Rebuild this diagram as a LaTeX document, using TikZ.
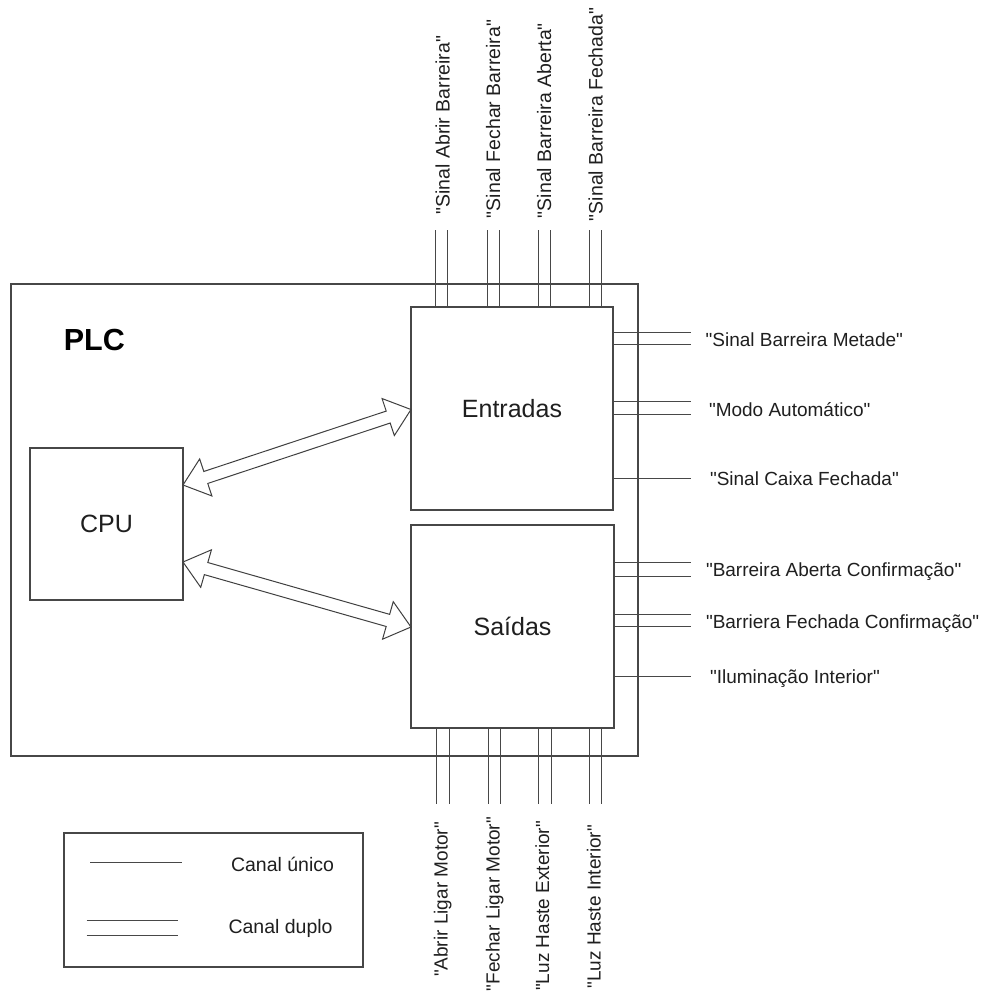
\documentclass[tikz,border=0pt]{standalone}
\usepackage{fontspec}
\setmainfont{Liberation Sans}[Ligatures=TeXOff]
\usetikzlibrary{calc}
\tikzset{
 box/.style={draw=black!72, line width=1.1pt, rectangle, inner sep=0pt, outer sep=0pt, fill=white},
 chan/.style={draw=black!72, line width=1pt},
 lbl/.style={inner sep=0pt, outer sep=0pt, text=black!88, font=\fontsize{19.5}{23}\selectfont},
 blbl/.style={inner sep=0pt, outer sep=0pt, text=black!88, font=\fontsize{19}{23}\selectfont},
 big/.style={text=black!88, font=\fontsize{25}{30}\selectfont, text height=17.9pt, text depth=0pt},
 arr/.style={draw=black!75, line width=1pt, fill=white, line join=miter},
}
\newcommand\dblarrow[2]{%
 \draw[arr] let \p1=(#1), \p2=(#2), \n1={atan2(\y2-\y1,\x2-\x1)}, \n2={veclen(\x2-\x1,\y2-\y1)} in
 [shift={(\p1)}, rotate=\n1]
 (0,0) -- (24,-19.5) -- (24,-6.3) -- ({\n2-24},-6.3) -- ({\n2-24},-19.5) -- (\n2,0)
 -- ({\n2-24},19.5) -- ({\n2-24},6.3) -- (24,6.3) -- (24,19.5) -- cycle;}
\begin{document}
\begin{tikzpicture}[x=1pt,y=-1pt]
\fill[white] (0,0) rectangle (984,994);
\useasboundingbox (0,0) rectangle (984,994);

% main boxes
\node[box, minimum width=627pt, minimum height=472pt] (plc) at (324.5,520) {};
\node[inner sep=0pt, anchor=base west, text=black, font=\fontsize{30.5}{36}\selectfont\bfseries] (plcl) at (63.7,350) {PLC};
\node[box, big, minimum width=153pt, minimum height=152pt] (cpu) at (106.5,524) {CPU};
\node[box, big, minimum width=202pt, minimum height=203pt] (ent) at (512,408.5) {Entradas};
\node[box, big, minimum width=203pt, minimum height=203pt] (sai) at (512.5,626.5) {Saídas};

% block arrows
\coordinate (ua) at (cpu.east |- 0,485);
\coordinate (ub) at (ent.west |- 0,409.5);
\coordinate (la) at (cpu.east |- 0,562);
\coordinate (lb) at (sai.west |- 0,627);
\dblarrow{ua}{ub}
\dblarrow{la}{lb}

% top input lines
\foreach \i/\x in {1/435,2/447,3/487.5,4/499.5,5/538,6/550.5,7/589.5,8/601.5}{
  \coordinate (t\i) at (\x,230);
  \draw[chan] (t\i) -- (t\i |- ent.north);
}
% bottom output lines
\foreach \i/\x in {1/436,2/449,3/488,4/500,5/538.5,6/551,7/589.5,8/601.5}{
  \coordinate (b\i) at (\x,804);
  \draw[chan] (sai.south -| b\i) -- (b\i);
}
% right lines (Entradas)
\foreach \i/\y in {1/332.3,2/344.3,3/401.7,4/414.3,5/478.3}{
  \coordinate (re\i) at (691,\y);
  \draw[chan] (re\i -| ent.east) -- (re\i);
}
% right lines (Saidas)
\foreach \i/\y in {1/562.7,2/576,3/614.3,4/626.7,5/676.7}{
  \coordinate (rs\i) at (691,\y);
  \draw[chan] (rs\i -| sai.east) -- (rs\i);
}

% top labels
\node[lbl, rotate=90, anchor=base west] (tl1) at (449.5,214.5) {"Sinal Abrir Barreira"};
\node[lbl, rotate=90, anchor=base west] (tl2) at (500,218) {"Sinal Fechar Barreira"};
\node[lbl, rotate=90, anchor=base west] (tl3) at (551,218) {"Sinal Barreira Aberta"};
\node[lbl, rotate=90, anchor=base west] (tl4) at (602.5,221) {"Sinal Barreira Fechada"};

% bottom labels
\node[blbl, rotate=90, anchor=base east] (bl1) at (447.5,822) {"Abrir Ligar Motor"};
\node[blbl, rotate=90, anchor=base east] (bl2) at (499.5,817) {"Fechar Ligar Motor"};
\node[blbl, rotate=90, anchor=base east] (bl3) at (549,821) {"Luz Haste Exterior"};
\node[blbl, rotate=90, anchor=base east] (bl4) at (600.5,825) {"Luz Haste Interior"};

% right labels
\node[blbl, anchor=base west] (rl1) at (705.7,346.7) {"Sinal Barreira Metade"};
\node[blbl, anchor=base west] (rl2) at (709,416) {"Modo Automático"};
\node[blbl, anchor=base west] (rl3) at (710,485) {"Sinal Caixa Fechada"};
\node[blbl, anchor=base west] (rl4) at (706,576.7) {"Barreira Aberta Confirmação"};
\node[blbl, anchor=base west] (rl5) at (706,628.5) {"Barriera Fechada Confirmação"};
\node[blbl, anchor=base west] (rl6) at (710,683.3) {"Iluminação Interior"};

% legend
\node[box, minimum width=299pt, minimum height=134pt] (leg) at (213.5,900) {};
\coordinate (ls1) at (90,862.3);  \coordinate (ls2) at (181.7,862.3);
\coordinate (ld1) at (86.7,920.7); \coordinate (ld2) at (178.3,920.7);
\coordinate (ld3) at (86.7,935);   \coordinate (ld4) at (178.3,935);
\draw[chan] (ls1) -- (ls2);
\draw[chan] (ld1) -- (ld2);
\draw[chan] (ld3) -- (ld4);
\node[lbl, anchor=base west] (leg1) at (231,871) {Canal único};
\node[lbl, anchor=base west] (leg2) at (228.5,933.3) {Canal duplo};
\end{tikzpicture}
\end{document}
